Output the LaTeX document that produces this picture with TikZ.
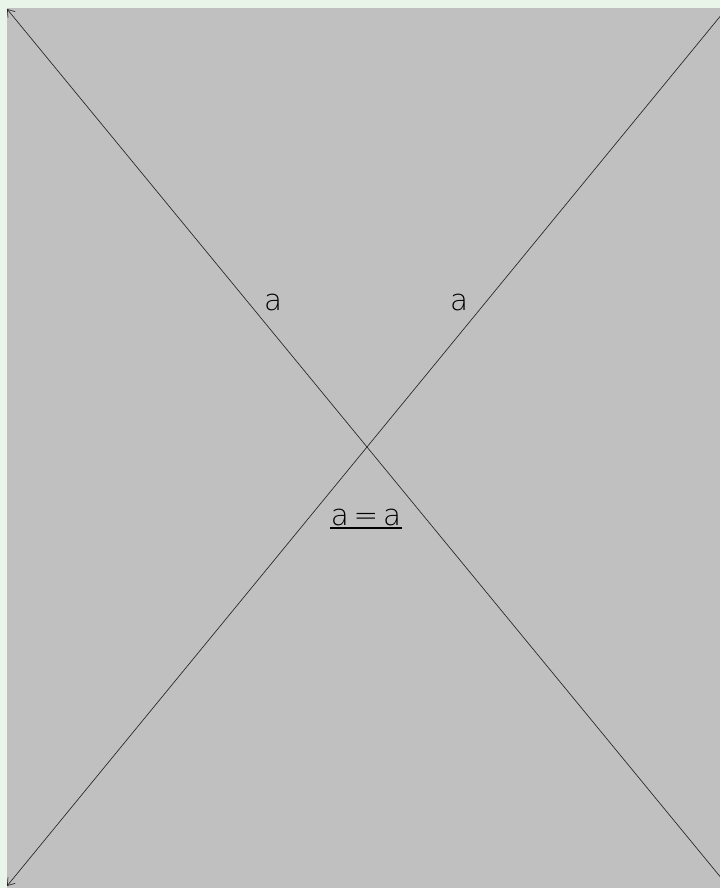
\documentclass[tikz,border=0pt]{standalone}
\usepackage{fontspec}
\setmainfont{DejaVu Sans ExtraLight}
\usetikzlibrary{arrows.meta}
\definecolor{bgGreen}{HTML}{EAF5EA}
\definecolor{panelGray}{HTML}{C0C0C0}
\tikzset{
  px/.style={x=0.75pt,y=-0.75pt},
  diag/.style={draw=black!85,line width=0.5pt},
  tipstyle/.style={{Straight Barb[length=5pt,width=7pt,line width=0.5pt]}-},
  lbl/.style={inner sep=0pt,font=\fontsize{22}{26}\selectfont}
}
\begin{document}
\begin{tikzpicture}[px]
\useasboundingbox (0,0) rectangle (720,888);
\fill[bgGreen] (0,0) rectangle (720,888);
\clip (0,0) rectangle (720,888);
\fill[panelGray] (7,8) rectangle (730,890);
\coordinate (tl) at (7,9);
\coordinate (br) at (727,885);
\coordinate (bl) at (7,886);
\coordinate (tr) at (727,8);
\draw[diag,tipstyle] (tl) -- (br);
\draw[diag,tipstyle] (bl) -- (tr);
\node[lbl] (la) at (273,302) {a};
\node[lbl] (ra) at (459,302) {a};
\node[lbl] (eq) at (366,517) {a\,=\,a};
\coordinate (ul) at (330,528);
\coordinate (ur) at (402,528);
\draw[line width=1.5pt,black] (ul) -- (ur);
\end{tikzpicture}
\end{document}
